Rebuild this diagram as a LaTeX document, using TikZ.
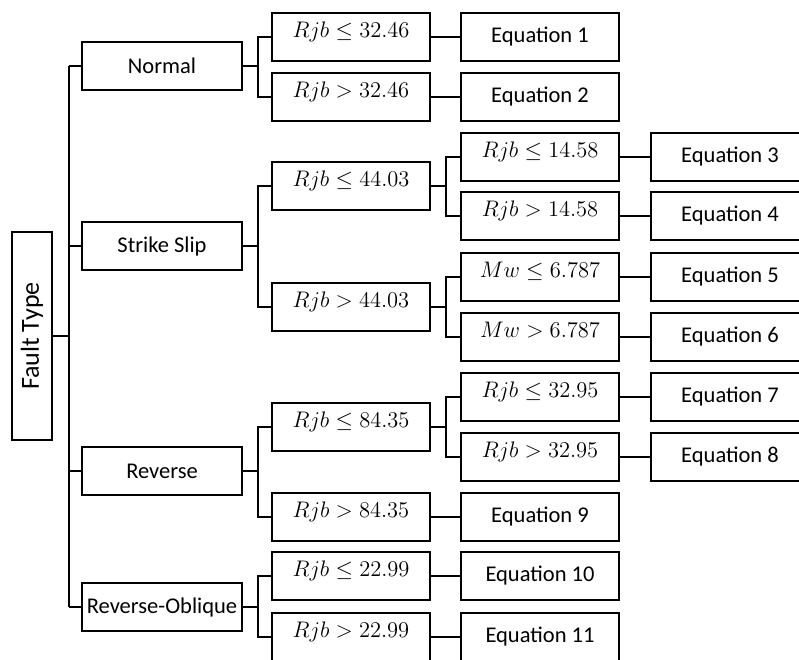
\RequirePackage{fix-cm}
\documentclass[tikz,border=0pt]{standalone}
\usepackage{fontspec}
\setmainfont{Carlito}
\usepackage{tikz}
\usetikzlibrary{calc}

\tikzset{
  box/.style={draw, line width=1.35pt, minimum width=3.93cm, minimum height=1.2cm,
              inner sep=0pt, font=\fontsize{16}{19}\selectfont},
  cond/.style={box, text height=11pt, text depth=10.5pt},
  wire/.style={line width=1.35pt}
}

\begin{document}
\begin{tikzpicture}[x=0.025cm, y=-0.025cm]
    % Rahmen des Bildes
    \useasboundingbox (0,0) rectangle (799,659);
    \clip (0,0) rectangle (799,659);

    % Wurzel
    \node[box, rotate=90, minimum width=5.2cm, minimum height=1cm,
          font=\fontsize{18.5}{22}\selectfont] (ft) at (32,336) {Fault Type};

    % Stufe 1: Bruchtypen
    \node[box, minimum width=4cm, minimum height=1.18cm] (normal)  at (162,66)  {Normal};
    \node[box, minimum width=4cm, minimum height=1.18cm] (strike)  at (162,246) {Strike Slip};
    \node[box, minimum width=4cm, minimum height=1.18cm] (reverse) at (162,471) {Reverse};
    \node[box, minimum width=4cm, minimum height=1.18cm] (oblique) at (162,607) {Reverse-Oblique};

    % Stufe 2: Bedingungen
    \node[cond] (n1) at (351,37)  {$Rjb \le 32.46$};
    \node[cond] (n2) at (351,97)  {$Rjb > 32.46$};
    \node[cond] (s1) at (351,186) {$Rjb \le 44.03$};
    \node[cond] (s2) at (351,307) {$Rjb > 44.03$};
    \node[cond] (r1) at (351,427) {$Rjb \le 84.35$};
    \node[cond] (r2) at (351,517) {$Rjb > 84.35$};
    \node[cond] (o1) at (351,576) {$Rjb \le 22.99$};
    \node[cond] (o2) at (351,637) {$Rjb > 22.99$};

    % Stufe 3
    \node[box]  (eq1)  at (540,37)  {Equation 1};
    \node[box]  (eq2)  at (540,97)  {Equation 2};
    \node[cond] (s11)  at (540,157) {$Rjb \le 14.58$};
    \node[cond] (s12)  at (540,216) {$Rjb > 14.58$};
    \node[cond] (s21)  at (540,277) {$Mw \le 6.787$};
    \node[cond] (s22)  at (540,337) {$Mw > 6.787$};
    \node[cond] (r11)  at (540,397) {$Rjb \le 32.95$};
    \node[cond] (r12)  at (540,457) {$Rjb > 32.95$};
    \node[box]  (eq9)  at (540,517) {Equation 9};
    \node[box]  (eq10) at (540,576) {Equation 10};
    \node[box]  (eq11) at (540,637) {Equation 11};

    % Stufe 4
    \node[box] (eq3) at (730,157) {Equation 3};
    \node[box] (eq4) at (730,216) {Equation 4};
    \node[box] (eq5) at (730,277) {Equation 5};
    \node[box] (eq6) at (730,337) {Equation 6};
    \node[box] (eq7) at (730,397) {Equation 7};
    \node[box] (eq8) at (730,457) {Equation 8};

    % Stamm
    \draw[wire] (ft.south) -- +(16,0) coordinate (tr);
    \draw[wire] (tr |- normal.west) -- (tr |- oblique.west);
    \foreach \n in {normal,strike,reverse,oblique}
        \draw[wire] (tr |- \n.west) -- (\n.west);

    % Verzweigungen
    \foreach \p/\a/\b in {normal/n1/n2, strike/s1/s2, reverse/r1/r2, oblique/o1/o2,
                          s1/s11/s12, s2/s21/s22, r1/r11/r12} {
        \draw[wire] (\p.east) -- +(15,0) |- (\a.west);
        \draw[wire] (\p.east) -- +(15,0) |- (\b.west);
    }

    % Direkte Verbindungen
    \foreach \a/\b in {n1/eq1, n2/eq2, r2/eq9, o1/eq10, o2/eq11,
                       s11/eq3, s12/eq4, s21/eq5, s22/eq6, r11/eq7, r12/eq8}
        \draw[wire] (\a) -- (\b);
\end{tikzpicture}
\end{document}
